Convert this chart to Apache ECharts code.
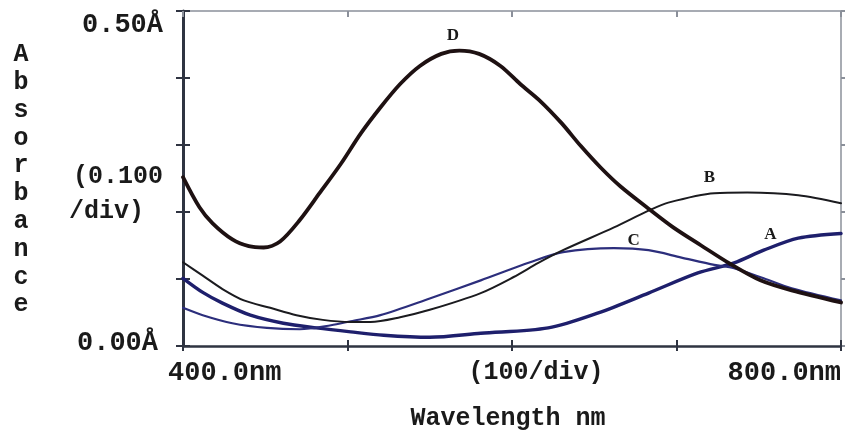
<!DOCTYPE html>
<html>
<head>
<meta charset="utf-8">
<script src="https://cdn.jsdelivr.net/npm/echarts@6/dist/echarts.min.js"></script>
<style>
html,body{margin:0;padding:0;background:#fff;}
#chart{width:845px;height:434px;}
</style>
</head>
<body>
<div id="chart"></div>
<script>
// ---- data ----
var xTickLabels = ['400.0nm', '(100/div)', '800.0nm'];
var yTickLabels = ['0.50Å', '(0.100', '/div)', '0.00Å'];
var xTitle = 'Wavelength nm';
var yTitle = 'Absorbance';

var dNm  = [400,410,418,430,440,449,459,471,483,496,508,520,532,544,557,568,580,593,605,617,630,642,654,666,683,698,715,733,751,770,800];
var dAbs = [0.252,0.207,0.183,0.159,0.149,0.147,0.156,0.188,0.228,0.272,0.317,0.356,0.391,0.418,0.436,0.441,0.436,0.418,0.391,0.366,0.333,0.298,0.266,0.238,0.205,0.177,0.150,0.122,0.098,0.083,0.065];

var bNm  = [400,412,424,437,453,469,485,502,514,532,550,581,601,616,631,662,683,695,723,743,774,800];
var bAbs = [0.125,0.105,0.085,0.068,0.057,0.046,0.039,0.036,0.036,0.043,0.054,0.079,0.103,0.124,0.143,0.177,0.202,0.214,0.228,0.229,0.225,0.213];

var cNm  = [400,412,430,451,471,490,502,520,550,581,611,631,662,683,703,723,735,753,770,800];
var cAbs = [0.057,0.046,0.034,0.027,0.025,0.031,0.037,0.046,0.071,0.098,0.125,0.140,0.146,0.143,0.132,0.121,0.116,0.101,0.086,0.068];

var aNm  = [400,412,424,441,461,481,502,522,550,581,622,652,683,713,735,753,774,800];
var aAbs = [0.101,0.080,0.064,0.046,0.034,0.027,0.021,0.016,0.013,0.019,0.027,0.049,0.079,0.109,0.124,0.143,0.161,0.168];

var curveNames = ['A', 'B', 'C', 'D'];
var curveLabelNm  = [757, 720, 674, 564];
var curveLabelAbs = [0.167, 0.251, 0.157, 0.463];

// ---- build ----
function pairs(xs, ys) { return xs.map(function (x, i) { return [x, ys[i]]; }); }

var chart = echarts.init(document.getElementById('chart'), null, {renderer: 'canvas'});
var mono = '"Liberation Mono", "Courier New", monospace';
var darkAxis = '#2f3441';
var lightAxis = '#8b909a';

function xAx(pos, lineColor, lineWidth, tickInside, tickLen, showLine) {
  return {
    type: 'value', position: pos, min: 400, max: 800, interval: 100,
    axisLine: {show: showLine, onZero: false, lineStyle: {color: lineColor, width: lineWidth}},
    axisTick: {show: true, inside: tickInside, length: tickLen, lineStyle: {color: lineColor, width: 2}},
    axisLabel: {show: false}, splitLine: {show: false}
  };
}
function yAx(pos, lineColor, lineWidth, tickInside, tickLen, showLine) {
  return {
    type: 'value', position: pos, min: 0, max: 0.5, interval: 0.1,
    axisLine: {show: showLine, onZero: false, lineStyle: {color: lineColor, width: lineWidth}},
    axisTick: {show: true, inside: tickInside, length: tickLen, lineStyle: {color: lineColor, width: 2}},
    axisLabel: {show: false}, splitLine: {show: false}
  };
}

function line(name, xs, ys, color, width) {
  return {
    name: name, type: 'line', xAxisIndex: 0, yAxisIndex: 0,
    data: pairs(xs, ys), smooth: 0.3, showSymbol: false, symbol: 'none',
    lineStyle: {color: color, width: width, cap: 'round', join: 'round'}, z: 5
  };
}

var option = {
  backgroundColor: '#ffffff',
  animation: false,
  grid: {left: 183, right: 4, top: 11, bottom: 88},
  xAxis: [
    xAx('bottom', darkAxis, 2.5, false, 5, true),
    xAx('bottom', darkAxis, 2.5, true, 6, false),
    xAx('top', lightAxis, 1.5, true, 6, true)
  ],
  yAxis: [
    yAx('left', darkAxis, 3, false, 7, true),
    yAx('left', darkAxis, 3, true, 7, false),
    yAx('right', lightAxis, 1.5, false, 5, true)
  ],
  series: [
    line('A', aNm, aAbs, '#1e1f6c', 3.4),
    line('C', cNm, cAbs, '#2c2e7c', 2.2),
    line('B', bNm, bAbs, '#1b1b1f', 2),
    line('D', dNm, dAbs, '#1e1112', 3.8)
  ]
};
chart.setOption(option);

var txt = {fill: '#1a1a1a', font: 'bold 27px ' + mono};
var txtS = {fill: '#1a1a1a', font: 'bold 25px ' + mono};
var g = [];
function t(text, x, y, align, base) {
  g.push({type: 'text', silent: true, z: 10, style: Object.assign({text: text, x: x, y: y, textAlign: align, textVerticalAlign: 'middle'}, base)});
}
t(yTickLabels[0], 163, 25, 'right', txt);
t(yTickLabels[1], 163, 177, 'right', txtS);
t(yTickLabels[2], 69, 212, 'left', txtS);
t(yTickLabels[3], 158, 343, 'right', txt);
t(xTickLabels[0], 168, 373, 'left', txt);
t(xTickLabels[1], 536, 373, 'center', txtS);
t(xTickLabels[2], 841, 373, 'right', txt);
t(xTitle, 508, 419, 'center', txtS);
yTitle.split('').forEach(function (ch, i) {
  t(ch, 21, 55 + i * 27.8, 'center', txtS);
});
curveNames.forEach(function (n, i) {
  var p = chart.convertToPixel({xAxisIndex: 0, yAxisIndex: 0}, [curveLabelNm[i], curveLabelAbs[i]]);
  t(n, p[0], p[1], 'center', {fill: '#1a1a1a', font: 'bold 17px "Liberation Serif", "Times New Roman", serif'});
});
chart.setOption({graphic: g});
</script>
</body>
</html>
